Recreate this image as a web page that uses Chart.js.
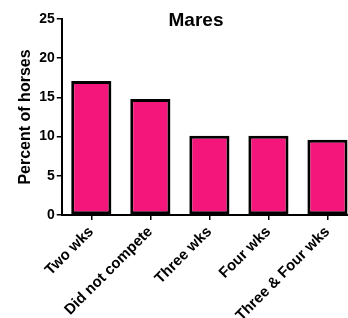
<!DOCTYPE html>
<html>
<head>
<meta charset="utf-8">
<script src="https://cdn.jsdelivr.net/npm/chart.js@4.4.1/dist/chart.umd.min.js"></script>
<style>
  html, body { margin: 0; padding: 0; overflow: hidden; background: #fff; }
  #wrap { position: absolute; left: 0; top: 0; width: 382px; height: 318px; }
</style>
</head>
<body>
<div id="wrap"><canvas id="c"></canvas></div>
<script>
const categories = ["Two wks", "Did not compete", "Three wks", "Four wks", "Three & Four wks"];
const percentValues = [17.1, 14.8, 10.1, 10.1, 9.6];
const yTicks = [0, 5, 10, 15, 20, 25];
const chartTitle = "Mares";
const yAxisTitle = "Percent of horses";

const FONT = "'Liberation Sans', Arial, sans-serif";

new Chart(document.getElementById('c'), {
  type: 'bar',
  data: {
    labels: categories,
    datasets: [{
      data: percentValues,
      backgroundColor: '#F5167B',
      borderColor: '#000000',
      borderWidth: 3,
      borderSkipped: false,
      barPercentage: 0.68,
      categoryPercentage: 1.0
    }]
  },
  options: {
    responsive: true,
    maintainAspectRatio: false,
    animation: false,
    layout: { padding: { left: 10, top: 0, right: 0, bottom: 0 } },
    plugins: {
      legend: { display: false },
      tooltip: { enabled: false },
      title: {
        display: true,
        text: chartTitle,
        color: '#000',
        font: { family: FONT, size: 19, weight: 'bold', lineHeight: 1.2 },
        padding: { top: 9.6, bottom: -13.4 }
      }
    },
    scales: {
      x: {
        grid: { display: true, drawOnChartArea: false, drawTicks: true, tickLength: 5, color: '#000', lineWidth: 1.5, offset: false },
        border: { display: true, color: '#000', width: 2 },
        ticks: {
          color: '#000',
          font: { family: FONT, size: 15, weight: 'bold' },
          minRotation: 45, maxRotation: 45, autoSkip: false, padding: 3
        },
        afterFit: (s) => { s.height = 103; }
      },
      y: {
        min: 0, max: 25,
        afterBuildTicks: (s) => { s.ticks = yTicks.map(v => ({ value: v })); },
        grid: { display: true, drawOnChartArea: false, drawTicks: true, tickLength: 5, color: '#000', lineWidth: 1.5 },
        border: { display: true, color: '#000', width: 2 },
        ticks: {
          color: '#000',
          font: { family: FONT, size: 14, weight: 'bold' },
          padding: 2
        },
        title: {
          display: true,
          text: yAxisTitle,
          color: '#000',
          font: { family: FONT, size: 16, weight: 'bold', lineHeight: 1.2 },
          padding: { top: 6, bottom: 2 }
        }
      },
      y2: {
        type: 'linear',
        position: 'right',
        display: true,
        grid: { display: false },
        border: { display: false },
        ticks: { display: false },
        afterFit: (s) => { s.width = 25; }
      }
    }
  }
});
</script>
</body>
</html>
